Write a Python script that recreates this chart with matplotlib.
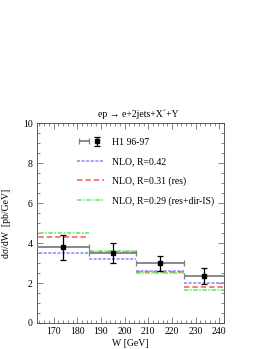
import numpy as np
import matplotlib
matplotlib.use('Agg')
import matplotlib.pyplot as plt
from matplotlib.ticker import MultipleLocator
from matplotlib.legend_handler import HandlerTuple

plt.rcParams['font.family'] = ['Liberation Serif', 'DejaVu Serif']
plt.rcParams['font.size'] = 7

# H1 96-97 data
w_center = [174, 195, 215, 233.5]
w_lo = [160, 185, 205, 225]
w_hi = [185, 205, 225, 245]
h1_val = [3.78, 3.48, 2.98, 2.36]
h1_err = [0.64, 0.50, 0.38, 0.40]

# NLO predictions per bin
bin_lo = [160, 185, 205, 225]
bin_hi = [185, 205, 225, 245]
nlo_042 = [3.48, 3.18, 2.60, 2.00]
nlo_031 = [4.28, 3.53, 2.55, 1.79]
nlo_029 = [4.48, 3.62, 2.50, 1.65]

fig = plt.figure(figsize=(2.70, 3.49), dpi=100)
ax = fig.add_axes([0.137, 0.0745, 0.693, 0.573])

c_blue = '#8888ff'
c_red = '#ff5555'
c_green = '#55ee55'

l1 = ax.hlines(nlo_042, bin_lo, bin_hi, colors=c_blue, linestyles=(0, (2, 1)), lw=1.1)
l2 = ax.hlines(nlo_031, bin_lo, bin_hi, colors=c_red, linestyles=(0, (3.5, 2)), lw=1.1)
l3 = ax.hlines(nlo_029, bin_lo, bin_hi, colors=c_green, linestyles=(0, (3, 1, 1, 1)), lw=1.1)

xerr = [np.array(w_center) - np.array(w_lo), np.array(w_hi) - np.array(w_center)]
hx = ax.errorbar(w_center, h1_val, xerr=xerr, fmt='none', ecolor='#808080',
                 elinewidth=1.3, capsize=2.5, capthick=0.9, zorder=4)
hy = ax.errorbar(w_center, h1_val, yerr=h1_err, fmt='s', color='black', ms=3.5,
                 ecolor='black', elinewidth=0.9, capsize=2, capthick=0.9, zorder=5)

leg = ax.legend([(hx, hy), l1, l2, l3],
                ['H1 96-97', 'NLO, R=0.42', 'NLO, R=0.31 (res)', 'NLO, R=0.29 (res+dir-IS)'],
                handler_map={tuple: HandlerTuple(ndivide=None)},
                loc='upper left', bbox_to_anchor=(0.19, 0.95), frameon=False,
                borderpad=0, handlelength=2.7, handletextpad=0.9, labelspacing=1.05,
                fontsize=7)

ax.set_xlim(163, 242)
ax.set_ylim(0, 10)
ax.xaxis.set_major_locator(MultipleLocator(10))
ax.xaxis.set_minor_locator(MultipleLocator(2))
ax.yaxis.set_major_locator(MultipleLocator(2))
ax.yaxis.set_minor_locator(MultipleLocator(0.5))
ax.tick_params(which='both', direction='in', top=True, right=True, width=0.5,
               color='#555555', labelsize=7, pad=3)
ax.tick_params(which='major', length=4)
ax.tick_params(which='minor', length=2)
for s in ax.spines.values():
    s.set_linewidth(0.6)
    s.set_color('#444444')

ax.set_xlabel('W [GeV]', fontsize=7, labelpad=2)
ax.set_ylabel('dσ/dW  [pb/GeV]', fontsize=7, labelpad=9)
ax.set_title('ep → e+2jets+X´+Y', fontsize=7, x=0.54, pad=4)

fig.savefig('out.png', dpi=100)
